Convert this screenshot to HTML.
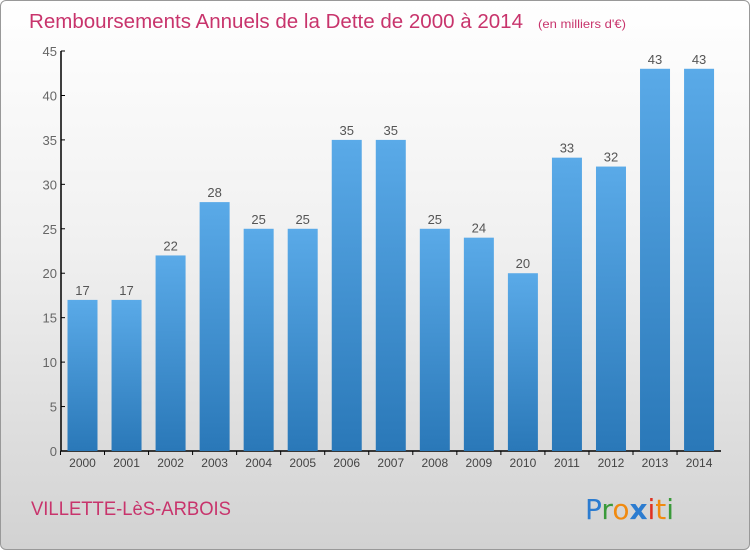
<!DOCTYPE html>
<html><head><meta charset="utf-8"><style>
body{margin:0;width:750px;height:550px;overflow:hidden;font-family:"Liberation Sans",sans-serif}
#wrap{position:absolute;left:0;top:0;width:748px;height:548px;border:1px solid #999;border-radius:6px;background:linear-gradient(#ffffff 0%,#f0f0f0 45%,#d2d2d2 100%);overflow:hidden}
</style></head><body>
<div id="wrap">
<svg id="chart" width="750" height="550">
<defs><linearGradient id="bg" x1="0" y1="0" x2="0" y2="1"><stop offset="0" stop-color="#5aaae8"/><stop offset="1" stop-color="#2a78b8"/></linearGradient></defs>
<text x="28" y="27" font-size="20" fill="#c8346c" textLength="494" lengthAdjust="spacingAndGlyphs">Remboursements Annuels de la Dette de 2000 à 2014</text>
<text x="537" y="27" font-size="12" fill="#c8346c" textLength="88" lengthAdjust="spacingAndGlyphs">(en milliers d'€)</text>
<text x="30" y="514" font-size="19" fill="#c8346c" textLength="200" lengthAdjust="spacingAndGlyphs">VILLETTE-LèS-ARBOIS</text>
<text x="584" y="518" font-size="28" font-family="DejaVu Sans,sans-serif"><tspan fill="#2c7cd0">P</tspan><tspan fill="#3a9a3a">r</tspan><tspan fill="#f08a10">o</tspan><tspan fill="#2c7cd0" font-weight="bold">x</tspan><tspan fill="#e03020">i</tspan><tspan fill="#f08a10">t</tspan><tspan fill="#3a9a3a">i</tspan></text>
<g id="axes"></g><g id="bars"></g>
</svg></div>
<script>
const years=["2000","2001","2002","2003","2004","2005","2006","2007","2008","2009","2010","2011","2012","2013","2014"];
const values=[17,17,22,28,25,25,35,35,25,24,20,33,32,43,43];
const yTicks=[0,5,10,15,20,25,30,35,40,45];
const NS="http://www.w3.org/2000/svg";
const y0=450,yTop=50,yMax=45,x0=81.5,step=44.04,bw=30;
function y(v){return y0-(v/yMax)*(y0-yTop);}
function x(i){return x0+i*step;}
function mk(t,a,p){const e=document.createElementNS(NS,t);for(const k in a)e.setAttribute(k,a[k]);p.appendChild(e);return e;}
const ax=document.getElementById('axes'),bs=document.getElementById('bars');
const yl=mk('line',{x1:60,y1:y(yMax),x2:60,y2:y0,stroke:'#000','stroke-width':1.5},ax);


const xl=mk('line',{x1:60,y1:y0,x2:720,y2:y0,stroke:'#000','stroke-width':1.5},ax);


yTicks.forEach(v=>{
 mk('line',{x1:60,y1:y(v),x2:64,y2:y(v),stroke:'#000'},ax);
 const t=mk('text',{x:56,y:y(v)+5,'text-anchor':'end','font-size':13,fill:'#666'},ax);t.textContent=v;
 
 
});
years.forEach((yr,i)=>{
 mk('line',{x1:x(i)-step/2,y1:y0,x2:x(i)-step/2,y2:y0+4,stroke:'#000'},ax);
 const t=mk('text',{x:x(i),y:466,'text-anchor':'middle','font-size':12,fill:'#444'},ax);t.textContent=yr;
 
 
 const r=mk('rect',{x:x(i)-bw/2,y:y(values[i]),width:bw,height:y0-y(values[i]),fill:'url(#bg)'},bs);
 
 
 const l=mk('text',{x:x(i),y:y(values[i])-5,'text-anchor':'middle','font-size':13,fill:'#555'},bs);l.textContent=values[i];
 
 
});
</script>
</body></html>
